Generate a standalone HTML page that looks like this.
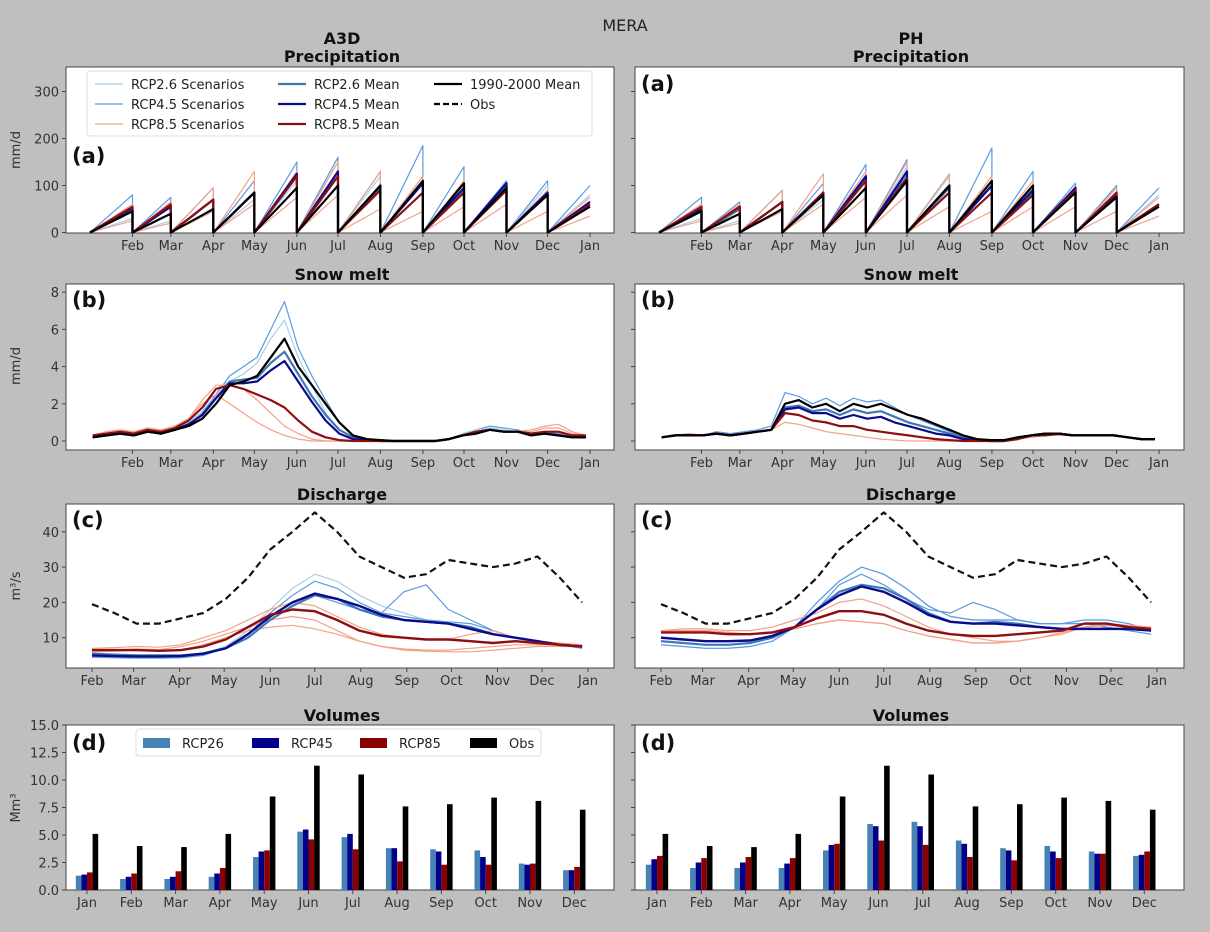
<!DOCTYPE html>
<html><head><meta charset="utf-8">
<style>
html,body{margin:0;padding:0;background:#bfbfbf;}
svg{display:block;font-family:"DejaVu Sans","Liberation Sans",sans-serif;}
.tk{font-size:13px;fill:#333;}
.ttl{font-size:16px;font-weight:bold;fill:#111;}
.pl{font-size:21px;font-weight:bold;fill:#111;}
.lg{font-size:13px;fill:#222;}
</style></head>
<body>
<svg id="fig" width="1210" height="932" viewBox="0 0 1210 932" xmlns="http://www.w3.org/2000/svg">
<rect width="1210" height="932" fill="#bfbfbf"/>
<text x="625" y="31" text-anchor="middle" font-size="16" fill="#222">MERA</text>
<text x="342" y="44" text-anchor="middle" class="ttl">A3D</text>
<text x="342" y="62" text-anchor="middle" class="ttl">Precipitation</text>
<text x="911" y="44" text-anchor="middle" class="ttl">PH</text>
<text x="911" y="62" text-anchor="middle" class="ttl">Precipitation</text>
<text x="342" y="280" text-anchor="middle" class="ttl">Snow melt</text>
<text x="911" y="280" text-anchor="middle" class="ttl">Snow melt</text>
<text x="342" y="500" text-anchor="middle" class="ttl">Discharge</text>
<text x="911" y="500" text-anchor="middle" class="ttl">Discharge</text>
<text x="342" y="721" text-anchor="middle" class="ttl">Volumes</text>
<text x="911" y="721" text-anchor="middle" class="ttl">Volumes</text>
<text transform="translate(20,150) rotate(-90)" text-anchor="middle" class="tk">mm/d</text>
<text transform="translate(20,366) rotate(-90)" text-anchor="middle" class="tk">mm/d</text>
<text transform="translate(20,586) rotate(-90)" text-anchor="middle" class="tk">m³/s</text>
<text transform="translate(20,808) rotate(-90)" text-anchor="middle" class="tk">Mm³</text>
<g id="layer"></g>
</svg>
<script>
// ---------- data ----------
const monthTickLabels = ["Feb","Mar","Apr","May","Jun","Jul","Aug","Sep","Oct","Nov","Dec","Jan"];
const monthTickDays = [31,59,90,120,151,181,212,243,273,304,334,365];
const monthStartDays = [0,31,59,90,120,151,181,212,243,273,304,334,365];
const precipTicks = [0,100,200,300];
const snowTicks = [0,2,4,6,8];
const dischargeTicks = [10,20,30,40];
const volumeTicks = [0,2.5,5,7.5,10,12.5,15];
const volumeMonths = ["Jan","Feb","Mar","Apr","May","Jun","Jul","Aug","Sep","Oct","Nov","Dec"];

// precipitation monthly cumulative totals (mm)
const precipObsL = [45,40,50,85,95,100,100,110,105,95,80,55];
const precip26L = [50,55,70,85,120,120,95,105,90,100,80,60];
const precip45L = [52,55,70,85,125,130,100,105,95,105,85,65];
const precip85L = [55,60,70,85,120,120,90,85,85,90,80,60];
const precip26sL = [80,75,95,110,150,160,130,185,140,110,110,100];
const precip45sL = [30,25,50,70,110,150,120,120,95,90,100,80];
const precip85sL = [60,65,95,130,130,150,130,120,110,90,90,75];
const precip85s2L = [25,20,45,60,75,80,50,45,55,60,45,35];
const precipObsR = [45,40,50,80,95,110,100,110,100,85,75,55];
const precip26R = [50,50,65,85,115,120,95,100,85,95,75,60];
const precip45R = [50,55,65,85,120,130,100,100,90,95,80,60];
const precip85R = [55,55,65,85,110,115,85,85,80,90,85,60];
const precip26sR = [75,65,90,105,145,155,125,180,130,105,100,95];
const precip45sR = [30,25,50,70,110,140,120,120,95,90,95,80];
const precip85sR = [60,60,90,125,130,150,125,120,110,95,95,75];
const precip85s2R = [25,20,45,60,75,80,55,45,55,55,45,35];

// snow melt, values every 10 days starting day 5
const snowStep = 10;
const snowObsL = [0.2,0.3,0.4,0.3,0.5,0.4,0.6,0.8,1.2,2.0,3.0,3.2,3.5,4.5,5.5,4.0,3.0,2.0,1.0,0.3,0.1,0.05,0,0,0,0,0.1,0.3,0.4,0.6,0.5,0.5,0.3,0.4,0.3,0.2,0.2];
const snow26L = [0.2,0.3,0.4,0.3,0.5,0.4,0.6,0.9,1.4,2.3,3.2,3.3,3.4,4.2,4.8,3.6,2.4,1.4,0.6,0.2,0.05,0,0,0,0,0,0.1,0.3,0.5,0.6,0.5,0.5,0.4,0.4,0.3,0.2,0.2];
const snow45L = [0.2,0.3,0.4,0.3,0.5,0.4,0.6,0.9,1.4,2.3,3.1,3.1,3.2,3.8,4.3,3.2,2.1,1.1,0.4,0.1,0.05,0,0,0,0,0,0.1,0.3,0.5,0.6,0.5,0.5,0.4,0.4,0.3,0.2,0.2];
const snow85L = [0.3,0.4,0.5,0.4,0.6,0.5,0.7,1.1,1.8,2.8,3.0,2.8,2.5,2.2,1.8,1.1,0.5,0.2,0.05,0,0,0,0,0,0,0,0.1,0.3,0.5,0.6,0.5,0.5,0.4,0.5,0.5,0.3,0.3];
const snow26sL = [0.3,0.4,0.5,0.4,0.6,0.5,0.7,0.9,1.5,2.5,3.5,4,4.5,6,7.5,5,3.5,2.2,1.0,0.3,0.1,0,0,0,0,0,0.1,0.4,0.6,0.8,0.7,0.6,0.4,0.5,0.4,0.2,0.2];
const snow45sL = [0.3,0.4,0.5,0.4,0.6,0.5,0.7,1,1.6,2.8,3.2,3.6,4.2,5.5,6.5,4.5,3,1.5,0.6,0.2,0.05,0,0,0,0,0,0.1,0.4,0.6,0.7,0.6,0.5,0.4,0.4,0.3,0.2,0.2];
const snow85sL = [0.3,0.5,0.6,0.5,0.7,0.6,0.8,1.2,2,2.5,2,1.5,1,0.6,0.3,0.1,0,0,0,0,0,0,0,0,0,0,0.1,0.3,0.5,0.6,0.5,0.5,0.6,0.8,0.9,0.5,0.3];
const snow85s2L = [0.3,0.5,0.6,0.5,0.7,0.6,0.8,1.2,2.2,3,3,2.8,2.2,1.5,0.8,0.4,0.1,0,0,0,0,0,0,0,0,0,0.1,0.3,0.5,0.6,0.5,0.5,0.5,0.7,0.7,0.4,0.3];
const snowObsR = [0.2,0.3,0.3,0.3,0.4,0.3,0.4,0.5,0.6,2.0,2.2,1.8,2.0,1.6,2.0,1.8,2.0,1.7,1.4,1.2,0.9,0.6,0.3,0.1,0.05,0.05,0.2,0.3,0.4,0.4,0.3,0.3,0.3,0.3,0.2,0.1,0.1];
const snow26R = [0.2,0.3,0.3,0.3,0.4,0.3,0.4,0.5,0.6,1.8,1.9,1.6,1.7,1.4,1.7,1.5,1.6,1.3,1.0,0.8,0.6,0.4,0.2,0.05,0,0,0.2,0.3,0.4,0.4,0.3,0.3,0.3,0.3,0.2,0.1,0.1];
const snow45R = [0.2,0.3,0.3,0.3,0.4,0.3,0.4,0.5,0.6,1.7,1.8,1.5,1.5,1.2,1.4,1.2,1.3,1.0,0.8,0.6,0.4,0.3,0.1,0.05,0,0,0.2,0.3,0.4,0.4,0.3,0.3,0.3,0.3,0.2,0.1,0.1];
const snow85R = [0.2,0.3,0.3,0.3,0.4,0.3,0.4,0.5,0.6,1.5,1.4,1.1,1.0,0.8,0.8,0.6,0.5,0.4,0.3,0.2,0.1,0.05,0,0,0,0,0.1,0.3,0.3,0.4,0.3,0.3,0.3,0.3,0.2,0.1,0.1];
const snow26sR = [0.2,0.3,0.4,0.3,0.5,0.4,0.5,0.6,0.8,2.6,2.4,2.0,2.3,1.9,2.3,2.1,2.2,1.8,1.4,1.1,0.8,0.5,0.2,0.1,0,0,0.2,0.3,0.4,0.4,0.3,0.3,0.3,0.3,0.2,0.1,0.1];
const snow85sR = [0.2,0.3,0.4,0.3,0.4,0.3,0.4,0.5,0.6,1.0,0.9,0.7,0.5,0.4,0.3,0.2,0.1,0.05,0,0,0,0,0,0,0,0,0.1,0.2,0.3,0.3,0.3,0.3,0.3,0.3,0.2,0.1,0.1];

// discharge, values every 15 days starting day 31
const disStart = 31, disStep = 15;
const disObsL = [19.5,17,14,14,15.5,17,21,27,35,40,45.5,40,33,30,27,28,32,31,30,31,33,27,20];
const dis26L = [5.5,5.2,5,5,5,5.5,7,10,15,19,22,21,18,16,15,14.5,14,13,11,10,9,8,7.5];
const dis45L = [5,4.8,4.7,4.7,4.8,5.5,7,11,16,20,22.5,21,19,16.5,15,14.5,14,12.5,11,10,9,8,7.5];
const dis85L = [6.5,6.5,6.5,6.3,6.5,7.5,9.5,13,16.5,18,17.5,15,12,10.5,10,9.5,9.5,9,8.5,9,8.5,8,7.5];
const dis26sL = [5,4.8,4.6,4.6,4.7,5.5,7.5,12,18,24,28,26,22,19,17,15,14,13,11,10,9,8,7];
const dis45sL = [5,4.7,4.5,4.5,4.6,5.2,7,11,16,20,22,20,18,17,23,25,18,15,12,10,9,8,7];
const dis45s2L = [4.5,4.3,4.2,4.2,4.3,5,7,11,17,22,26,24,20,17,16,15,14.5,14,12,10,9,8,7.5];
const dis85sL = [6,6.2,6.4,6.2,6.5,8,10,12,13,13.5,12.5,11,9,7.5,6.5,6.2,6,6,6.5,7,7.5,7.5,7.5];
const dis85s2L = [7,7.2,7.5,7.3,8,10,12,15,18,20,19,16,13,11,10,9.5,9.5,11,12,10,9,8.5,8];
const dis85s3L = [6.5,6.5,6.8,6.6,7.5,9,11,13,15,16,15,12,9,7.5,6.8,6.5,6.5,7,7.5,8,8,8,7.5];
const disObsR = [19.5,17,14,14,15.5,17,21,27,35,40,45.5,40,33,30,27,28,32,31,30,31,33,27,20];
const dis26R = [9,8.5,8,8,8.5,10,13,18,23,25,24,21,17,14.5,14,14.5,14,13,12.5,12.5,12.5,12.5,12];
const dis45R = [10,9.5,9,9,9.2,10.5,13,18,22,24.5,23,20,16.5,14.5,14,14,13.5,13,12.5,12.5,12.5,12.5,12];
const dis85R = [11.5,11.5,11.5,11,11,11.5,13,15.5,17.5,17.5,16.5,14,12,11,10.5,10.5,11,11.5,12,14,14,13,12.5];
const dis26sR = [8,7.5,7,7,7.5,9,13,20,26,30,28,24,19,16,15,15,15,14,14,14,13,12,11];
const dis45sR = [9,8.5,8,8,8.5,10,13,18,25,28,25,21,18,17,20,18,15,14,14,15,15,14,12];
const dis85sR = [12,12.5,12.5,12,12,13,15,17,20,21,19,16,13,11,10,9,9,10,11,13,14,13.5,13];
const dis85s2R = [12,12,12,11.5,11,11.5,12.5,14,15,14.5,14,12,10.5,9.5,8.5,8.5,9,10,11.5,13,13.5,13,13];

// volumes (Mm3)
const vol26L = [1.3,1.0,1.0,1.2,3.0,5.3,4.8,3.8,3.7,3.6,2.4,1.8];
const vol45L = [1.4,1.2,1.2,1.5,3.5,5.5,5.1,3.8,3.5,3.0,2.3,1.8];
const vol85L = [1.6,1.5,1.7,2.0,3.6,4.6,3.7,2.6,2.3,2.3,2.4,2.1];
const volObsL = [5.1,4.0,3.9,5.1,8.5,11.3,10.5,7.6,7.8,8.4,8.1,7.3];
const vol26R = [2.3,2.0,2.0,2.0,3.6,6.0,6.2,4.5,3.8,4.0,3.5,3.1];
const vol45R = [2.8,2.5,2.5,2.4,4.1,5.8,5.8,4.2,3.6,3.5,3.3,3.2];
const vol85R = [3.1,2.9,3.0,2.9,4.2,4.5,4.1,3.0,2.7,2.9,3.3,3.5];
const volObsR = [5.1,4.0,3.9,5.1,8.5,11.3,10.5,7.6,7.8,8.4,8.1,7.3];

// ---------- rendering ----------
const NS = "http://www.w3.org/2000/svg";
const layer = document.getElementById("layer");
function mk(tag, attrs, parent){ const e=document.createElementNS(NS,tag); for(const k in attrs) e.setAttribute(k,attrs[k]); (parent||layer).appendChild(e); return e; }
const C = {s26:"#a6cfe8", s45:"#5b9be0", s85:"#f3a288", m26:"#3f78b5", m45:"#0b0b8c", m85:"#8e0f12", obs:"#000"};
const COLX = [0,569];
const PANEL_L = [66,635], PANEL_W = [548,549];
const rows = {p:[67,233], s:[284,450], d:[504,668], v:[725,890]};

const xPrec = (day,c)=>90+day*1.37+COLX[c];
const xDis = (day,c)=>46+day*1.485+COLX[c];
const yPrec = v=>232.5-v*0.47;
const ySnow = v=>441-v*18.6;
const yDis = v=>673-v*3.53;
const yVol = v=>890-v*11;
const xVol = (i,c)=>87+i*44.3+COLX[c]+(c?1:0);

function panel(c,r,name){
  const g=mk("rect",{x:PANEL_L[c],y:rows[r][0],width:PANEL_W[c],height:rows[r][1]-rows[r][0],fill:"#fff",stroke:"#444","stroke-width":1});
  
  
}
function xTicks(c,r,fx,days,labels){
  const yb=rows[r][1];
  days.forEach((d,i)=>{
    const x=fx(d,c);
    mk("line",{x1:x,x2:x,y1:yb,y2:yb+4,stroke:"#444"});
    const t=mk("text",{x:x,y:yb+17,"text-anchor":"middle",class:"tk"}); t.textContent=labels[i];
    
    
  });
}
function yTicks(c,r,fy,ticks,fmt){
  const xl=PANEL_L[c];
  ticks.forEach(v=>{
    const y=fy(v);
    mk("line",{x1:xl-4,x2:xl,y1:y,y2:y,stroke:"#444"});
    if(c===0){ const t=mk("text",{x:xl-7,y:y+5,"text-anchor":"end",class:"tk"}); t.textContent=fmt?fmt(v):v;
      
       }
  });
}
function poly(pts,color,w,name,dash){
  const d=pts.map((p,i)=>(i?"L":"M")+p[0].toFixed(1)+","+p[1].toFixed(1)).join("");
  const a={d:d,fill:"none",stroke:color,"stroke-width":w,"stroke-linejoin":"round"};
  if(dash) a["stroke-dasharray"]=dash;
  const e=mk("path",a);
  
  
}
function precLine(c,tot,color,w,name){
  const pts=[];
  for(let m=0;m<12;m++){
    const a=monthStartDays[m], b=monthStartDays[m+1];
    pts.push([xPrec(a,c),yPrec(0)]);
    for(let k=1;k<=4;k++){ const f=k/4; pts.push([xPrec(a+(b-a)*f,c),yPrec(tot[m]*f)]); }
  }
  poly(pts,color,w,name);
}
function seriesLine(c,vals,fx,fy,start,step,color,w,name,dash){
  poly(vals.map((v,i)=>[fx(start+i*step,c),fy(v)]),color,w,name,dash);
}
function label(c,r,txt,y){
  const t=mk("text",{x:PANEL_L[c]+6,y:y,class:"pl"}); t.textContent=txt;
  
  
}

// Row 1: precipitation
[[0,[precipObsL,precip26L,precip45L,precip85L,precip26sL,precip45sL,precip85sL,precip85s2L]],
 [1,[precipObsR,precip26R,precip45R,precip85R,precip26sR,precip45sR,precip85sR,precip85s2R]]].forEach(([c,s])=>{
  panel(c,"p",c?"right-precipitation-panel":"left-precipitation-panel");
  precLine(c,s[4],C.s45,1.2,"rcp45-scenario-line");
  precLine(c,s[5],C.s26,1.2,"rcp26-scenario-line");
  precLine(c,s[6],C.s85,1.2,"rcp85-scenario-line");
  precLine(c,s[7],C.s85,1.2,"rcp85-scenario-line");
  precLine(c,s[1],C.m26,2.2,"rcp26-mean-line");
  precLine(c,s[2],C.m45,2.2,"rcp45-mean-line");
  precLine(c,s[3],C.m85,2.2,"rcp85-mean-line");
  precLine(c,s[0],C.obs,2.2,"baseline-mean-line");
  xTicks(c,"p",xPrec,monthTickDays,monthTickLabels);
  yTicks(c,"p",yPrec,precipTicks);
});
label(0,"p","(a)",163); label(1,"p","(a)",91);

// Row 2: snow
[[0,[snowObsL,snow26L,snow45L,snow85L,snow26sL,snow45sL,snow85sL,snow85s2L]],
 [1,[snowObsR,snow26R,snow45R,snow85R,snow26sR,snow26R,snow85sR,snow85R]]].forEach(([c,s])=>{
  panel(c,"s",c?"right-snowmelt-panel":"left-snowmelt-panel");
  seriesLine(c,s[4],xPrec,ySnow,2,snowStep,C.s45,1.2,"rcp45-scenario-line");
  seriesLine(c,s[5],xPrec,ySnow,2,snowStep,C.s26,1.2,"rcp26-scenario-line");
  seriesLine(c,s[6],xPrec,ySnow,2,snowStep,C.s85,1.2,"rcp85-scenario-line");
  seriesLine(c,s[7],xPrec,ySnow,2,snowStep,C.s85,1.2,"rcp85-scenario-line");
  seriesLine(c,s[1],xPrec,ySnow,2,snowStep,C.m26,2.2,"rcp26-mean-line");
  seriesLine(c,s[2],xPrec,ySnow,2,snowStep,C.m45,2.2,"rcp45-mean-line");
  seriesLine(c,s[3],xPrec,ySnow,2,snowStep,C.m85,2.2,"rcp85-mean-line");
  seriesLine(c,s[0],xPrec,ySnow,2,snowStep,C.obs,2.2,"baseline-mean-line");
  xTicks(c,"s",xPrec,monthTickDays,monthTickLabels);
  yTicks(c,"s",ySnow,snowTicks);
  label(c,"s","(b)",307);
});

// Row 3: discharge
const disTickDays=[31,59,90,120,151,181,212,243,273,304,334,365];
[[0,[disObsL,dis26L,dis45L,dis85L,dis26sL,dis45sL,dis45s2L,dis85sL,dis85s2L,dis85s3L]],
 [1,[disObsR,dis26R,dis45R,dis85R,dis26sR,dis45sR,dis26sR,dis85sR,dis85s2R,dis85s2R]]].forEach(([c,s])=>{
  panel(c,"d",c?"right-discharge-panel":"left-discharge-panel");
  seriesLine(c,s[4],xDis,yDis,disStart,disStep,C.s26,1.2,"rcp26-scenario-line");
  seriesLine(c,s[5],xDis,yDis,disStart,disStep,C.s45,1.2,"rcp45-scenario-line");
  seriesLine(c,s[6],xDis,yDis,disStart,disStep,C.s45,1.2,"rcp45-scenario-line");
  seriesLine(c,s[7],xDis,yDis,disStart,disStep,C.s85,1.2,"rcp85-scenario-line");
  seriesLine(c,s[8],xDis,yDis,disStart,disStep,C.s85,1.2,"rcp85-scenario-line");
  seriesLine(c,s[9],xDis,yDis,disStart,disStep,C.s85,1.2,"rcp85-scenario-line");
  seriesLine(c,s[1],xDis,yDis,disStart,disStep,C.m26,2.2,"rcp26-mean-line");
  seriesLine(c,s[2],xDis,yDis,disStart,disStep,C.m45,2.4,"rcp45-mean-line");
  seriesLine(c,s[3],xDis,yDis,disStart,disStep,C.m85,2.4,"rcp85-mean-line");
  seriesLine(c,s[0],xDis,yDis,disStart,disStep,"#111",2.2,"obs-line","7,4");
  xTicks(c,"d",xDis,disTickDays,monthTickLabels);
  yTicks(c,"d",yDis,dischargeTicks);
  label(c,"d","(c)",527);
});

// Row 4: volumes
const barW=5.6;
[[0,[vol26L,vol45L,vol85L,volObsL]],[1,[vol26R,vol45R,vol85R,volObsR]]].forEach(([c,s])=>{
  panel(c,"v",c?"right-volumes-panel":"left-volumes-panel");
  const cols=["#4682b4","#00008b","#8b0000","#000"];
  const names=["bar-rcp26","bar-rcp45","bar-rcp85","bar-obs"];
  for(let i=0;i<12;i++){
    for(let k=0;k<4;k++){
      const v=s[k][i]; const x=xVol(i,c)+(k-2)*barW;
      const b=mk("rect",{x:x.toFixed(1),y:yVol(v).toFixed(1),width:barW,height:(yVol(0)-yVol(v)).toFixed(1),fill:cols[k]});
      
      
    }
  }
  xTicks(c,"v",(i,cc)=>xVol(i,cc),[0,1,2,3,4,5,6,7,8,9,10,11],volumeMonths);
  yTicks(c,"v",yVol,volumeTicks,v=>v.toFixed(1));
  label(c,"v","(d)",750);
});

// Legends
(function(){
  const g=mk("g",{});
  
  
  mk("rect",{x:87,y:71,width:505,height:65,rx:3,fill:"#fff",stroke:"#ddd"},g);
  const items=[[95,84,C.s26,1.2,"RCP2.6 Scenarios"],[95,104,C.s45,1.2,"RCP4.5 Scenarios"],[95,124,C.s85,1.2,"RCP8.5 Scenarios"],
    [278,84,C.m26,2.2,"RCP2.6 Mean"],[278,104,C.m45,2.2,"RCP4.5 Mean"],[278,124,C.m85,2.2,"RCP8.5 Mean"],
    [434,84,"#000",2.2,"1990-2000 Mean"],[434,104,"#000",2.2,"Obs"]];
  items.forEach((it,i)=>{
    const ln=mk("line",{x1:it[0],x2:it[0]+28,y1:it[1],y2:it[1],stroke:it[2],"stroke-width":it[3]},g);
    if(i===7) ln.setAttribute("stroke-dasharray","6,3");
    const t=mk("text",{x:it[0]+36,y:it[1]+5,class:"lg"},g); t.textContent=it[4];
    
    
  });
})();
(function(){
  const g=mk("g",{});
  
  
  mk("rect",{x:136,y:729,width:405,height:27,rx:3,fill:"#fff",stroke:"#ddd"},g);
  const items=[[143,"#4682b4","RCP26"],[252,"#00008b","RCP45"],[360,"#8b0000","RCP85"],[470,"#000","Obs"]];
  items.forEach(it=>{
    mk("rect",{x:it[0],y:738,width:27,height:10,fill:it[1]},g);
    const t=mk("text",{x:it[0]+39,y:748,class:"lg"},g); t.textContent=it[2];
    
    
  });
})();
</script>
</body></html>
